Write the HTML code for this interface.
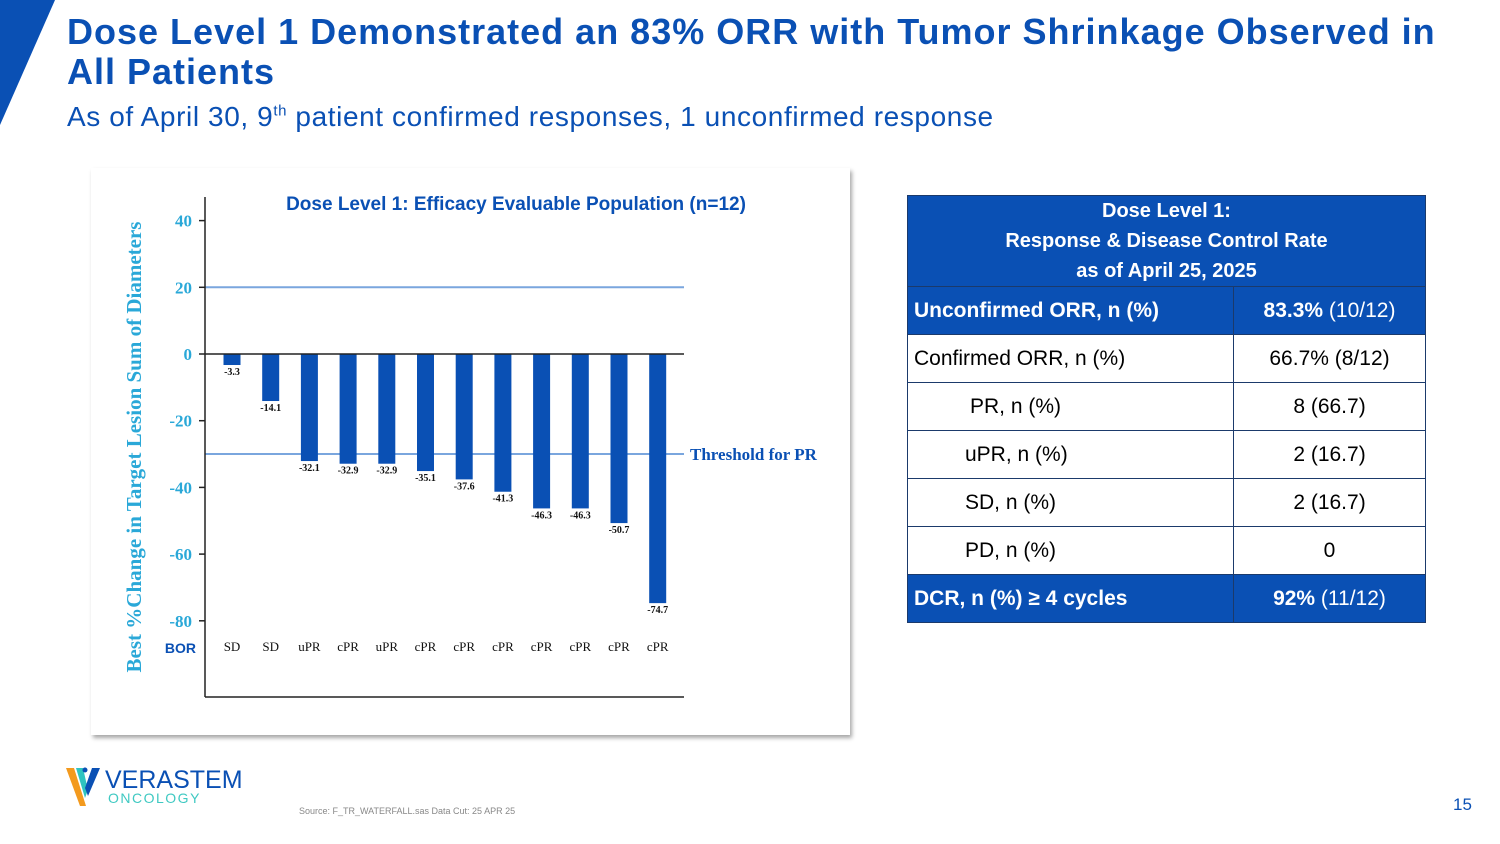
<!DOCTYPE html>
<html><head><meta charset="utf-8">
<style>
*{margin:0;padding:0;box-sizing:border-box}
body{width:1500px;height:844px;background:#fff;position:relative;overflow:hidden;font-family:"Liberation Sans",sans-serif}
.title{position:absolute;left:67px;top:12px;white-space:nowrap;color:#0a50b4;font-weight:bold;font-size:36px;letter-spacing:1px;line-height:40px}
.sub{position:absolute;left:67px;top:101px;white-space:nowrap;color:#0a50b4;font-size:28px;letter-spacing:0.6px}
.sub sup{font-size:15px}
.chartbox{position:absolute;left:91px;top:168px;width:759px;height:567px;background:#fff;box-shadow:2px 3px 4px rgba(0,0,0,.35)}
table{position:absolute;left:907px;top:195px;width:519px;border-collapse:collapse;font-size:21px}
td{border:1.5px solid #1b3a6b;height:48px;padding:0 6px}
.hd{background:#0a50b4;color:#fff;font-weight:bold;text-align:center;line-height:30px;height:90px;font-size:20px}
.blue td{background:#0a50b4;color:#fff}
td.c{text-align:center}
</style></head><body>
<svg style="position:absolute;left:0;top:0" width="60" height="130"><polygon points="0,0 55,0 0,125" fill="#0a50b4"/></svg>
<div class="title">Dose Level 1 Demonstrated an 83% ORR with Tumor Shrinkage Observed in<br>All Patients</div>
<div class="sub">As of April 30, 9<sup>th</sup> patient confirmed responses, 1 unconfirmed response</div>
<div class="chartbox"></div>
<svg id="chart" style="position:absolute;left:0;top:0" width="1500" height="844"></svg>
<table>
<tr><td colspan="2" class="hd">Dose Level 1:<br>Response &amp; Disease Control Rate<br>as of April 25, 2025</td></tr>
<tr class="blue"><td style="width:326px"><b>Unconfirmed ORR, n (%)</b></td><td class="c"><b>83.3%</b> (10/12)</td></tr>
<tr><td>Confirmed ORR, n (%)</td><td class="c">66.7% (8/12)</td></tr>
<tr><td style="padding-left:62px">PR, n (%)</td><td class="c">8 (66.7)</td></tr>
<tr><td style="padding-left:57px">uPR, n (%)</td><td class="c">2 (16.7)</td></tr>
<tr><td style="padding-left:57px">SD, n (%)</td><td class="c">2 (16.7)</td></tr>
<tr><td style="padding-left:57px">PD, n (%)</td><td class="c">0</td></tr>
<tr class="blue"><td><b>DCR, n (%) ≥ 4 cycles</b></td><td class="c"><b>92%</b> (11/12)</td></tr>
</table>
<svg style="position:absolute;left:66px;top:766px" width="36" height="42">
<polygon points="0,2 8,2 20,40 14,40" fill="#f39a1e"/><polygon points="10,2 17,2 22,24 19,32" fill="#2fc4c0"/><polygon points="26,2 34,2 22,30 19,22" fill="#0a50b4"/><circle cx="19" cy="4" r="2.5" fill="#0a50b4"/>
</svg>
<div style="position:absolute;left:105px;top:766px;color:#0a50b4;font-size:25px">VERASTEM</div>
<div style="position:absolute;left:108px;top:790px;color:#3fc9c2;font-size:14px;letter-spacing:1.5px">ONCOLOGY</div>
<div style="position:absolute;left:299px;top:806px;color:#888;font-size:9px">Source: F_TR_WATERFALL.sas Data Cut: 25 APR 25</div>
<div style="position:absolute;left:1453px;top:795px;color:#0a50b4;font-size:17px">15</div>
<script>
const values=[-3.3,-14.1,-32.1,-32.9,-32.9,-35.1,-37.6,-41.3,-46.3,-46.3,-50.7,-74.7];
const bor=["SD","SD","uPR","cPR","uPR","cPR","cPR","cPR","cPR","cPR","cPR","cPR"];
const yTicks=[40,20,0,-20,-40,-60,-80];
const refLines=[20,-30];
const NS="http://www.w3.org/2000/svg";
const svg=document.getElementById('chart');
const x0=205,x1=684;
function y(v){return 354-v*3.335;}
function xc(i){return 232+i*38.7;}
function mk(t,a,txt){const e=document.createElementNS(NS,t);for(const k in a)e.setAttribute(k,a[k]);if(txt!==undefined)e.textContent=txt;svg.appendChild(e);return e;}
const serif='"Liberation Serif",serif';
let e;
e=mk('text',{x:516,y:210,'text-anchor':'middle','font-size':19,'font-weight':'bold',fill:'#0a50b4','font-family':'"Liberation Sans",sans-serif'},'Dose Level 1: Efficacy Evaluable Population (n=12)');


refLines.forEach(v=>{
 e=mk('line',{x1:x0,x2:x1,y1:y(v),y2:y(v),stroke:'#7aa6de','stroke-width':2});
 
 
});
e=mk('text',{x:690,y:y(-30)+6,'font-size':17,'font-weight':'bold',fill:'#0a50b4','font-family':serif},'Threshold for PR');


values.forEach((v,i)=>{
 e=mk('rect',{x:xc(i)-8.5,y:y(0),width:17,height:y(v)-y(0),fill:'#0a50b4'});
 
 
 e=mk('text',{x:xc(i),y:y(v)+10,'text-anchor':'middle','font-size':10,'font-weight':'bold',fill:'#111','font-family':serif},v.toFixed(1));
 
 
 e=mk('text',{x:xc(i),y:651,'text-anchor':'middle','font-size':13,fill:'#111','font-family':serif},bor[i]);
 
 
});
mk('line',{x1:x0,x2:x1,y1:y(0),y2:y(0),stroke:'#222','stroke-width':1.5});
mk('line',{x1:x0,x2:x0,y1:197,y2:697,stroke:'#222','stroke-width':1.5});
mk('line',{x1:x0,x2:x1,y1:697,y2:697,stroke:'#222','stroke-width':1.5});
yTicks.forEach(v=>{
 mk('line',{x1:x0-6,x2:x0,y1:y(v),y2:y(v),stroke:'#222','stroke-width':1.5});
 e=mk('text',{x:192,y:y(v)+6,'text-anchor':'end','font-size':17,'font-weight':'bold',fill:'#2aa8d8','font-family':serif},v);
 
 
});
e=mk('text',{x:196,y:653,'text-anchor':'end','font-size':14,'font-weight':'bold',fill:'#0a50b4','font-family':'"Liberation Sans",sans-serif'},'BOR');


e=mk('text',{x:0,y:0,transform:'translate(141,447) rotate(-90)','text-anchor':'middle','font-size':21,'font-weight':'bold',fill:'#2aa8d8','font-family':serif},'Best %Change in Target Lesion Sum of Diameters');


</script>
</body></html>
